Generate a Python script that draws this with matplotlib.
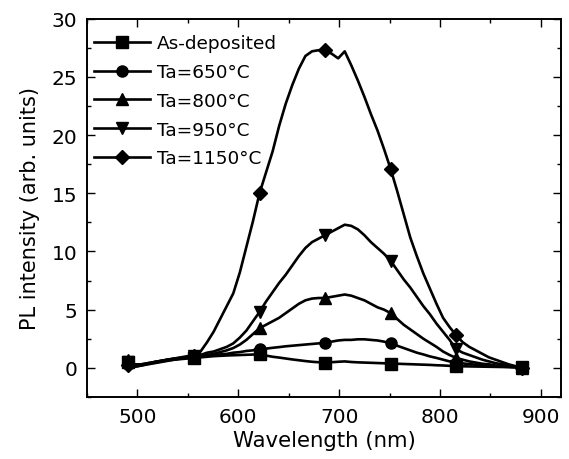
import numpy as np
import matplotlib
matplotlib.use('Agg')
import matplotlib.pyplot as plt
from matplotlib.ticker import MultipleLocator

plt.rcParams['font.family'] = ['DejaVu Sans']

# wavelength grid (nm), markers sit on every 10th point
wl = np.arange(491, 881.1, 6.5)

as_dep = [0.5, 0.15, 0.25, 0.35, 0.45, 0.55, 0.65, 0.7, 0.75, 0.8,
          0.85, 0.9, 0.95, 1.0, 1.03, 1.06, 1.08, 1.1, 1.12, 1.14,
          1.15, 1.05, 0.95, 0.88, 0.8, 0.72, 0.65, 0.58, 0.52, 0.48,
          0.45, 0.48, 0.52, 0.55, 0.5, 0.47, 0.45, 0.43, 0.41, 0.39,
          0.37, 0.35, 0.33, 0.31, 0.29, 0.27, 0.25, 0.22, 0.2, 0.17,
          0.15, 0.13, 0.12, 0.11, 0.1, 0.09, 0.08, 0.07, 0.06, 0.05,
          0.05]
ta650 = [0.3, 0.1, 0.2, 0.35, 0.5, 0.6, 0.7, 0.75, 0.8, 0.85,
         0.9, 1.0, 1.05, 1.1, 1.15, 1.2, 1.3, 1.35, 1.45, 1.5,
         1.6, 1.65, 1.72, 1.78, 1.85, 1.9, 1.95, 2.0, 2.05, 2.1,
         2.15, 2.25, 2.35, 2.4, 2.4, 2.45, 2.45, 2.4, 2.35, 2.25,
         2.1, 1.9, 1.7, 1.5, 1.3, 1.15, 0.98, 0.85, 0.7, 0.55,
         0.45, 0.38, 0.32, 0.27, 0.22, 0.18, 0.14, 0.1, 0.08, 0.06,
         0.05]
ta800 = [0.7, 0.3, 0.3, 0.4, 0.5, 0.6, 0.7, 0.8, 0.85, 0.9,
         0.9, 1.0, 1.1, 1.2, 1.35, 1.5, 1.7, 2.0, 2.4, 2.9,
         3.4, 3.7, 4.0, 4.3, 4.7, 5.1, 5.5, 5.8, 5.95, 6.0,
         6.0, 6.1, 6.2, 6.3, 6.2, 6.0, 5.8, 5.5, 5.2, 5.0,
         4.7, 4.2, 3.7, 3.3, 2.9, 2.5, 2.15, 1.8, 1.4, 1.1,
         0.85, 0.7, 0.55, 0.45, 0.35, 0.3, 0.2, 0.15, 0.1, 0.05,
         0.0]
ta950 = [0.5, 0.2, 0.3, 0.4, 0.5, 0.6, 0.7, 0.8, 0.9, 1.0,
         1.0, 1.1, 1.3, 1.4, 1.6, 1.8, 2.1, 2.6, 3.2, 4.0,
         4.8, 5.7, 6.5, 7.3, 8.0, 8.8, 9.6, 10.3, 10.8, 11.1,
         11.4, 11.7, 12.0, 12.3, 12.2, 11.9, 11.4, 10.8, 10.3, 9.8,
         9.2, 8.4, 7.6, 6.9, 6.1, 5.3, 4.6, 3.8, 3.1, 2.4,
         1.6, 1.3, 1.1, 0.9, 0.7, 0.55, 0.4, 0.3, 0.2, 0.1,
         0.0]
ta1150 = [0.2, 0.1, 0.2, 0.3, 0.4, 0.5, 0.6, 0.7, 0.8, 0.9,
          1.0, 1.4, 2.2, 3.1, 4.2, 5.3, 6.4, 8.2, 10.4, 12.6,
          15.0, 16.8, 18.6, 20.8, 22.7, 24.3, 25.7, 26.8, 27.2, 27.3,
          27.3, 27.0, 26.6, 27.2, 26.0, 24.7, 23.3, 21.8, 20.4, 18.8,
          17.1, 15.2, 13.2, 11.2, 9.6, 8.1, 6.8, 5.5, 4.3, 3.5,
          2.8, 2.2, 1.8, 1.5, 1.2, 0.9, 0.7, 0.5, 0.3, 0.15,
          0.0]

series = [
    (as_dep, 's', 'As-deposited'),
    (ta650, 'o', 'Ta=650°C'),
    (ta800, '^', 'Ta=800°C'),
    (ta950, 'v', 'Ta=950°C'),
    (ta1150, 'D', 'Ta=1150°C'),
]

fig = plt.figure(figsize=(5.69, 4.6), dpi=100)
ax = fig.add_axes([0.153, 0.135, 0.833, 0.822])

for y, m, lab in series:
    ms = 7 if m == 'D' else 8
    ax.plot(wl, y, color='black', lw=1.9, marker=m, markersize=ms,
            markevery=10, label=lab)

ax.set_xlim(450, 920)
ax.set_ylim(-2.5, 30)
ax.xaxis.set_major_locator(MultipleLocator(100))
ax.xaxis.set_minor_locator(MultipleLocator(50))
ax.yaxis.set_major_locator(MultipleLocator(5))
ax.yaxis.set_minor_locator(MultipleLocator(2.5))
ax.tick_params(which='both', direction='in', top=True, right=True,
               labelsize=14.5, width=1.0, pad=7)
ax.tick_params(which='major', length=5.5)
ax.tick_params(which='minor', length=3)
for s in ax.spines.values():
    s.set_linewidth(1.4)

ax.set_xlabel('Wavelength (nm)', fontsize=15.3, labelpad=3.5)
ax.set_ylabel('PL intensity (arb. units)', fontsize=15, labelpad=8)

ax.legend(loc='upper left', frameon=False, fontsize=13.3,
          handlelength=3.0, handletextpad=0.38, labelspacing=0.58,
          borderpad=0.4, borderaxespad=0.0, bbox_to_anchor=(0.0, 0.978))

fig.savefig('out.png', dpi=100)
